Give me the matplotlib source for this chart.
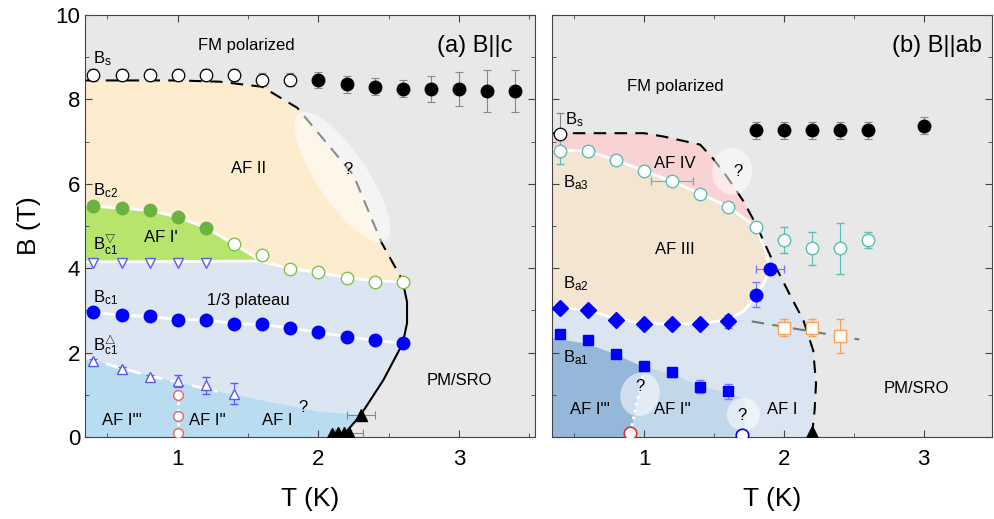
import matplotlib
matplotlib.use('Agg')
import matplotlib.pyplot as plt
import matplotlib.transforms as mtransforms
from matplotlib.patches import Ellipse, Polygon
from matplotlib.ticker import MultipleLocator

plt.rcParams['font.family'] = ['Liberation Sans', 'DejaVu Sans']
plt.rcParams['mathtext.fontset'] = 'custom'
plt.rcParams['mathtext.rm'] = 'Liberation Sans'
plt.rcParams['mathtext.it'] = 'Liberation Sans:italic'

# ---------------- panel (a) B||c data ----------------
T_bs_open = [0.4, 0.6, 0.8, 1.0, 1.2, 1.4, 1.6, 1.8]
B_bs_open = [8.58, 8.58, 8.58, 8.58, 8.58, 8.58, 8.47, 8.47]
T_bs_fill = [2.0, 2.2, 2.4, 2.6, 2.8, 3.0, 3.2, 3.4]
B_bs_fill = [8.46, 8.36, 8.30, 8.25, 8.25, 8.25, 8.20, 8.20]
E_bs_fill = [0.2, 0.2, 0.2, 0.2, 0.3, 0.4, 0.5, 0.5]

T_bc2 = [0.4, 0.6, 0.8, 1.0, 1.2]
B_bc2 = [5.47, 5.42, 5.37, 5.21, 4.96]
T_bc2_open = [1.4, 1.6, 1.8, 2.0, 2.2, 2.4, 2.6]
B_bc2_open = [4.57, 4.32, 3.99, 3.90, 3.78, 3.68, 3.68]

T_bc1_down = [0.4, 0.6, 0.8, 1.0, 1.2]
B_bc1_down = [4.13, 4.13, 4.13, 4.13, 4.13]

T_bc1 = [0.4, 0.6, 0.8, 1.0, 1.2, 1.4, 1.6, 1.8, 2.0, 2.2, 2.4, 2.6]
B_bc1 = [2.96, 2.88, 2.86, 2.78, 2.78, 2.68, 2.67, 2.58, 2.48, 2.38, 2.29, 2.22]

T_bc1_up = [0.4, 0.6, 0.8, 1.0, 1.2, 1.4]
B_bc1_up = [1.80, 1.62, 1.42, 1.33, 1.23, 1.03]
E_bc1_up = [0.05, 0.05, 0.05, 0.15, 0.2, 0.25]

T_red_a = [1.0, 1.0, 1.0]
B_red_a = [1.0, 0.5, 0.1]

T_tri_a = [2.1, 2.14, 2.18, 2.22, 2.3]
B_tri_a = [0.06, 0.1, 0.1, 0.1, 0.52]

# phase boundaries (a)
upper_a = [(0.34, 8.45), (1.0, 8.45), (1.3, 8.42), (1.6, 8.3), (1.85, 7.8),
           (2.05, 7.0), (2.25, 6.2), (2.45, 4.6), (2.6, 3.7)]
solid_a = [(2.6, 3.68), (2.63, 3.2), (2.63, 2.7), (2.6, 2.22), (2.46, 1.34),
           (2.3, 0.52), (2.19, 0.09), (2.16, 0.0)]
green_top = [(0.34, 5.49), (0.4, 5.47), (0.6, 5.42), (0.8, 5.37), (1.0, 5.21),
             (1.2, 4.96), (1.4, 4.57), (1.58, 4.2)]
plateau_top = [(0.34, 4.15), (1.58, 4.17), (1.8, 3.99), (2.0, 3.9), (2.2, 3.78),
               (2.4, 3.7), (2.6, 3.68)]
afI_top = [(0.34, 1.9), (0.4, 1.82), (0.6, 1.63), (0.8, 1.45), (1.0, 1.3),
           (1.28, 1.08), (2.0, 0.6), (2.3, 0.52)]

# ---------------- panel (b) B||ab data ----------------
T_bs_b = [0.4]
B_bs_b = [7.18]
T_sat_b = [1.8, 2.0, 2.2, 2.4, 2.6, 3.0]
B_sat_b = [7.27, 7.27, 7.27, 7.27, 7.27, 7.38]

T_ba3 = [0.4, 0.6, 0.8, 1.0, 1.2, 1.4, 1.6, 1.8, 2.0, 2.2, 2.4, 2.6]
B_ba3 = [6.77, 6.77, 6.56, 6.31, 6.06, 5.77, 5.46, 4.98, 4.67, 4.47, 4.47, 4.67]
E_ba3 = [0.3, 0.05, 0.05, 0.1, 0.05, 0.05, 0.1, 0.05, 0.3, 0.4, 0.6, 0.2]

T_blue_b = [1.8, 1.9]
B_blue_b = [3.37, 3.97]

T_ba2 = [0.4, 0.6, 0.8, 1.0, 1.2, 1.4, 1.6]
B_ba2 = [3.06, 3.0, 2.78, 2.68, 2.68, 2.68, 2.74]

T_ba1 = [0.4, 0.6, 0.8, 1.0, 1.2, 1.4, 1.6]
B_ba1 = [2.43, 2.29, 1.97, 1.68, 1.53, 1.19, 1.08]
E_ba1 = [0.0, 0.0, 0.0, 0.0, 0.1, 0.15, 0.18]

T_orange = [2.0, 2.2, 2.4]
B_orange = [2.59, 2.59, 2.39]
E_orange = [0.2, 0.2, 0.4]

upper_b = [(0.34, 7.2), (1.0, 7.2), (1.14, 7.12), (1.4, 6.93), (1.49, 6.61),
           (1.59, 6.18), (1.71, 5.59), (1.8, 5.04), (1.92, 4.17), (2.04, 3.39),
           (2.14, 2.76), (2.21, 2.05), (2.23, 1.27), (2.22, 0.64), (2.2, 0.0)]
teal_line = [(0.34, 6.82), (0.4, 6.8), (0.6, 6.77), (0.8, 6.56), (1.0, 6.31),
             (1.2, 6.06), (1.4, 5.77), (1.6, 5.46), (1.8, 4.98)]
afIII_right = [(1.87, 4.4), (1.9, 3.97), (1.85, 3.6), (1.8, 3.37), (1.72, 3.0),
               (1.6, 2.78), (1.4, 2.69), (1.2, 2.68), (1.0, 2.69), (0.8, 2.8),
               (0.6, 3.0), (0.4, 3.07), (0.34, 3.1)]
afI3_b = [(0.34, 0.0), (0.34, 2.35), (0.6, 2.2), (0.8, 1.95), (1.0, 1.65), (0.9, 0.0)]
afI2_b = [(0.9, 0.0), (1.0, 1.65), (1.2, 1.5), (1.4, 1.2), (1.6, 1.05),
          (1.72, 0.9), (1.72, 0.0)]
gray_dash_b = [(1.77, 2.74), (2.54, 2.31)]

# colours
c_bg = '#e8e8e8'
c_afII = '#fdecce'
c_green = '#b6e46c'
c_plateau = '#dce6f2'
c_sky = '#badcf1'
c_pink = '#f9d2d4'
c_beige = '#f3e5d2'
c_dark = '#95b8da'
c_mid = '#c3d7eb'
c_light = '#dae5f1'

fig = plt.figure(figsize=(9.95, 5.19), dpi=100)
axa = fig.add_axes([0.0854, 0.158, 0.4523, 0.813])
axb = fig.add_axes([0.5548, 0.158, 0.4422, 0.813])


def blob(ax, x, y, w, h, ang):
    tr = fig.dpi_scale_trans + mtransforms.ScaledTranslation(x, y, ax.transData)
    ax.add_patch(Ellipse((0, 0), w, h, angle=ang, transform=tr,
                         fc='white', ec='none', alpha=0.55, zorder=3))


def xs(pts):
    return [p[0] for p in pts]


def ys(pts):
    return [p[1] for p in pts]


for ax in (axa, axb):
    ax.set_facecolor(c_bg)
    ax.set_ylim(0, 10)
    ax.yaxis.set_major_locator(MultipleLocator(2))
    ax.yaxis.set_minor_locator(MultipleLocator(1))
    ax.xaxis.set_major_locator(MultipleLocator(1))
    ax.xaxis.set_minor_locator(MultipleLocator(0.5))
    ax.tick_params(which='both', direction='in', top=True, right=True,
                   labelsize=16, color='#444444')
    ax.tick_params(which='major', length=5)
    ax.tick_params(which='minor', length=3)
    ax.tick_params(axis='x', pad=9)
    for s in ax.spines.values():
        s.set_color('#444444')
    ax.set_xlabel('T (K)', fontsize=19, labelpad=12)

axa.set_xlim(0.34, 3.54)
axb.set_xlim(0.34, 3.49)
axb.set_yticklabels([])
axa.set_ylabel('B (T)', fontsize=19, labelpad=10)

# ---------------- panel (a) ----------------
ax = axa
ax.add_patch(Polygon(upper_a + solid_a[1:] + [(0.34, 0.0)], fc=c_afII, ec='none', zorder=0.5))
ax.add_patch(Polygon(plateau_top + solid_a[1:] + [(0.34, 0.0)], fc=c_plateau, ec='none', zorder=0.6))
ax.add_patch(Polygon(green_top + [(0.34, 4.15)], fc=c_green, ec='none', zorder=0.7))
ax.add_patch(Polygon(afI_top + solid_a[6:] + [(0.34, 0.0)], fc=c_sky, ec='none', zorder=0.8))

ax.plot(xs(green_top), ys(green_top), color='white', lw=2, zorder=1.5)
ax.plot(xs(plateau_top), ys(plateau_top), color='white', lw=2, zorder=1.5)
ax.plot([0.34] + T_bc1, [2.98] + B_bc1, color='white', lw=2, zorder=1.5)
ax.plot(xs(afI_top[:6]), ys(afI_top[:6]), color='white', lw=2, ls=(0, (5, 3)), zorder=1.5)
ax.plot(T_red_a, B_red_a, color='white', lw=2, ls=(0, (1, 1.5)), zorder=1.5)
ax.plot(xs(upper_a), ys(upper_a), color='black', lw=1.5, ls=(0, (6, 4)), zorder=2)
ax.plot(xs(solid_a), ys(solid_a), color='black', lw=1.5, zorder=2)

blob(ax, 2.17, 6.16, 1.54, 0.5, -56)

eb = dict(ecolor='#888888', elinewidth=0.8, capsize=3, capthick=0.8, ls='none', zorder=4)
ax.errorbar(T_bs_open, B_bs_open, yerr=0.15, fmt='o', ms=9, mfc='white', mec='black', mew=0.9, **eb)
ax.errorbar(T_bs_fill, B_bs_fill, yerr=E_bs_fill, fmt='o', ms=9, mfc='black', mec='black', **eb)
ax.plot(T_bc2, B_bc2, 'o', ms=9, mfc='#6bb33f', mec='#6bb33f', ls='none', zorder=4)
ax.plot(T_bc2_open, B_bc2_open, 'o', ms=9, mfc='white', mec='#7dc24b', mew=1, ls='none', zorder=4)
ax.plot(T_bc1_down, B_bc1_down, 'v', ms=7.5, mfc='white', mec='#5a5af5', mew=1, ls='none', zorder=4)
ax.plot(T_bc1, B_bc1, 'o', ms=9, mfc='#0000ff', mec='#0000ff', ls='none', zorder=4)
ax.errorbar(T_bc1_up, B_bc1_up, yerr=E_bc1_up, fmt='^', ms=7.5, mfc='white', mec='#5a5af5', mew=1,
            ecolor='#5a5af5', elinewidth=0.8, capsize=3, ls='none', zorder=4)
ax.plot(T_red_a, B_red_a, 'o', ms=7, mfc='white', mec='#e06666', mew=1, ls='none', zorder=4)
ax.errorbar(T_tri_a, B_tri_a, xerr=[0.0, 0.0, 0.0, 0.1, 0.1], fmt='^', ms=8, mfc='black', mec='black', **eb)

tk = dict(fontsize=12, zorder=5)
ax.text(1.49, 9.27, 'FM polarized', ha='center', va='center', **tk)
ax.text(3.38, 9.27, '(a) B||c', ha='right', va='center', fontsize=17, zorder=5)
ax.text(0.40, 8.96, r'B$_\mathrm{s}$', ha='left', va='center', **tk)
ax.text(1.50, 6.37, 'AF II', ha='center', va='center', **tk)
ax.text(2.21, 6.34, '?', ha='center', va='center', **tk)
ax.text(0.40, 5.83, r'B$_\mathrm{c2}$', ha='left', va='center', **tk)
ax.text(0.88, 4.72, "AF I'", ha='center', va='center', **tk)
ax.text(0.40, 4.55, r'B$_\mathrm{c1}^{\bigtriangledown}$', ha='left', va='center', **tk)
ax.text(1.50, 3.23, '1/3 plateau', ha='center', va='center', **tk)
ax.text(0.40, 3.30, r'B$_\mathrm{c1}$', ha='left', va='center', **tk)
ax.text(0.40, 2.17, r'B$_\mathrm{c1}^{\bigtriangleup}$', ha='left', va='center', **tk)
ax.text(0.60, 0.40, "AF I'''", ha='center', va='center', **tk)
ax.text(1.21, 0.40, "AF I''", ha='center', va='center', **tk)
ax.text(1.71, 0.40, 'AF I', ha='center', va='center', **tk)
ax.text(1.89, 0.71, '?', ha='center', va='center', **tk)
ax.text(3.00, 1.34, 'PM/SRO', ha='center', va='center', **tk)

# ---------------- panel (b) ----------------
ax = axb
ax.add_patch(Polygon(upper_b + [(0.34, 0.0)], fc=c_light, ec='none', zorder=0.5))
ax.add_patch(Polygon(upper_b[:8] + teal_line[::-1], fc=c_pink, ec='none', zorder=0.6))
ax.add_patch(Polygon(teal_line + afIII_right, fc=c_beige, ec='none', zorder=0.7))
ax.add_patch(Polygon(afI3_b, fc=c_dark, ec='none', zorder=0.8))
ax.add_patch(Polygon(afI2_b, fc=c_mid, ec='none', zorder=0.8))

wl = teal_line + afIII_right
ax.plot(xs(wl), ys(wl), color='white', lw=2, zorder=1.5)
ax.plot([0.9, 1.0], [0.1, 1.6], color='white', lw=2, ls=(0, (1, 1.5)), zorder=1.5)
ax.plot(xs(gray_dash_b), ys(gray_dash_b), color='#777777', lw=1.5, ls=(0, (6, 4)), zorder=2)
ax.plot(xs(upper_b), ys(upper_b), color='black', lw=1.5, ls=(0, (6, 4)), zorder=2)

blob(ax, 1.63, 6.30, 0.40, 0.47, 0)
blob(ax, 0.97, 1.01, 0.39, 0.44, -20)
blob(ax, 1.71, 0.54, 0.33, 0.33, 0)

ax.errorbar(T_bs_b, B_bs_b, yerr=0.5, fmt='o', ms=9, mfc='white', mec='black', mew=0.9, **eb)
ax.errorbar(T_sat_b, B_sat_b, yerr=0.2, fmt='o', ms=9, mfc='black', mec='black', **eb)
ax.errorbar(T_ba3, B_ba3, yerr=E_ba3, xerr=[0, 0, 0, 0, 0.15, 0, 0, 0, 0, 0, 0, 0],
            fmt='o', ms=9, mfc='white', mec='#5cbdb3', mew=1,
            ecolor='#5cbdb3', elinewidth=0.8, capsize=3, ls='none', zorder=4)
ax.errorbar(T_blue_b, B_blue_b, yerr=[0.3, 0.0], xerr=[0.0, 0.1], fmt='o', ms=9,
            mfc='#0000ff', mec='#0000ff', ecolor='#7777ff', elinewidth=0.8, capsize=3,
            ls='none', zorder=4)
ax.errorbar(T_ba2, B_ba2, yerr=[0, 0, 0, 0, 0, 0, 0.15], fmt='D', ms=8, mfc='#0000ff',
            mec='#0000ff', ecolor='#7777ff', elinewidth=0.8, capsize=3, ls='none', zorder=4)
ax.errorbar(T_ba1, B_ba1, yerr=E_ba1, fmt='s', ms=7, mfc='#0000ff', mec='#0000ff',
            ecolor='#7777ff', elinewidth=0.8, capsize=3, ls='none', zorder=4)
ax.errorbar(T_orange, B_orange, yerr=E_orange, fmt='s', ms=8, mfc='white', mec='#f5a25c',
            mew=1, ecolor='#f5a25c', elinewidth=0.8, capsize=3, ls='none', zorder=4)
ax.plot([0.9], [0.1], 'o', ms=9, mfc='white', mec='#dd3333', mew=1.2, ls='none', zorder=4)
ax.plot([1.7], [0.05], 'o', ms=9, mfc='white', mec='#0000ff', mew=1.2, ls='none', zorder=4)
ax.plot([2.2], [0.12], '^', ms=9, mfc='black', mec='black', ls='none', zorder=4)

ax.text(1.22, 8.30, 'FM polarized', ha='center', va='center', **tk)
ax.text(3.42, 9.27, '(b) B||ab', ha='right', va='center', fontsize=17, zorder=5)
ax.text(0.43, 7.52, r'B$_\mathrm{s}$', ha='left', va='center', **tk)
ax.text(1.22, 6.48, 'AF IV', ha='center', va='center', **tk)
ax.text(1.67, 6.30, '?', ha='center', va='center', **tk)
ax.text(0.42, 6.02, r'B$_\mathrm{a3}$', ha='left', va='center', **tk)
ax.text(1.22, 4.45, 'AF III', ha='center', va='center', **tk)
ax.text(0.42, 3.63, r'B$_\mathrm{a2}$', ha='left', va='center', **tk)
ax.text(0.42, 1.89, r'B$_\mathrm{a1}$', ha='left', va='center', **tk)
ax.text(0.97, 1.19, '?', ha='center', va='center', **tk)
ax.text(1.70, 0.52, '?', ha='center', va='center', **tk)
ax.text(0.61, 0.64, "AF I'''", ha='center', va='center', **tk)
ax.text(1.20, 0.64, "AF I''", ha='center', va='center', **tk)
ax.text(1.99, 0.64, 'AF I', ha='center', va='center', **tk)
ax.text(2.95, 1.15, 'PM/SRO', ha='center', va='center', **tk)

fig.savefig('out.png', dpi=100)
